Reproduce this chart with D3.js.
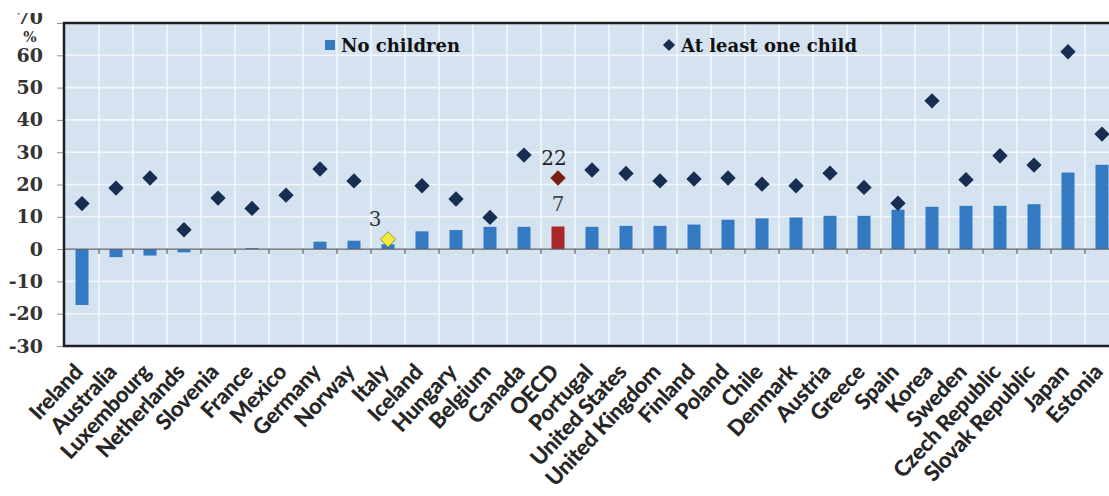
<!DOCTYPE html>
<html>
<head>
<meta charset="utf-8">
<script src="https://cdn.jsdelivr.net/npm/d3@7"></script>
<style>
  html, body { margin: 0; padding: 0; background: #ffffff; }
  svg { display: block; }
</style>
</head>
<body>
<div id="chart"></div>
<script>
// Countries, ordered by the gap for people without children
const countries = ["Ireland", "Australia", "Luxembourg", "Netherlands", "Slovenia", "France", "Mexico",
  "Germany", "Norway", "Italy", "Iceland", "Hungary", "Belgium", "Canada", "OECD", "Portugal",
  "United States", "United Kingdom", "Finland", "Poland", "Chile", "Denmark", "Austria", "Greece",
  "Spain", "Korea", "Sweden", "Czech Republic", "Slovak Republic", "Japan", "Estonia"];

// Gap (%) for people with no children (bars)
const noChildren = [-17.3, -2.5, -2.0, -1.0, 0.0, 0.3, 0.0,
  2.3, 2.6, 1.5, 5.5, 5.9, 6.9, 6.9, 7, 6.9,
  7.2, 7.2, 7.6, 9.1, 9.5, 9.8, 10.3, 10.3,
  12.2, 13.1, 13.4, 13.4, 13.9, 23.7, 26.1];

// Gap (%) for people with at least one child (diamonds)
const atLeastOneChild = [14.1, 18.9, 22.0, 6.0, 15.8, 12.6, 16.7,
  24.8, 21.1, 3, 19.6, 15.5, 9.8, 29.1, 22, 24.5,
  23.4, 21.1, 21.7, 22.0, 20.1, 19.6, 23.5, 19.1,
  14.2, 45.9, 21.5, 28.9, 26.0, 61.1, 35.6];

const yTicks = [-30, -20, -10, 0, 10, 20, 30, 40, 50, 60, 70];
const seriesNames = ["No children", "At least one child"];

const W = 1109, H = 496;
const plot = { left: 64, top: 23, right: 1119, bottom: 346 };

const svg = d3.select("#chart").append("svg")
  .attr("width", W).attr("height", H);

// the visible picture starts a little below the top edge
svg.append("defs").append("clipPath").attr("id", "page")
  .append("rect").attr("x", 0).attr("y", 13).attr("width", W).attr("height", H - 13);
const g = svg.append("g").attr("clip-path", "url(#page)");

const x = d3.scaleBand().domain(countries).range([65, 65 + 34 * countries.length]).padding(0);
const y = d3.scaleLinear().domain([-30, 70]).range([plot.bottom, plot.top]);

// plot background
g.append("rect")
  .attr("x", plot.left).attr("y", plot.top)
  .attr("width", plot.right - plot.left).attr("height", plot.bottom - plot.top)
  .attr("fill", "#d5e3f1");

// grid: horizontal at each tick, vertical at category boundaries
g.append("g").selectAll("line").data(yTicks).join("line")
  .attr("x1", plot.left).attr("x2", plot.right)
  .attr("y1", d => y(d)).attr("y2", d => y(d))
  .attr("stroke", "#f2f6fb").attr("stroke-width", 1.6);
g.append("g").selectAll("line").data(countries.slice(1)).join("line")
  .attr("x1", d => x(d)).attr("x2", d => x(d))
  .attr("y1", plot.top).attr("y2", plot.bottom)
  .attr("stroke", "#f2f6fb").attr("stroke-width", 1.6);

// bars
const barW = 13;
g.append("g").selectAll("rect").data(countries).join("rect")
  .attr("x", d => x(d) + x.bandwidth() / 2 - barW / 2)
  .attr("width", barW)
  .attr("y", (d, i) => y(Math.max(0, noChildren[i])))
  .attr("height", (d, i) => Math.abs(y(noChildren[i]) - y(0)))
  .attr("fill", d => d === "OECD" ? "#a8282b" : "#337ac2");

// zero line with boundary ticks
g.append("line")
  .attr("x1", plot.left).attr("x2", plot.right)
  .attr("y1", y(0)).attr("y2", y(0))
  .attr("stroke", "#5a5f66").attr("stroke-width", 1.4);
g.append("g").selectAll("line").data(countries.slice(1)).join("line")
  .attr("x1", d => x(d)).attr("x2", d => x(d))
  .attr("y1", y(0)).attr("y2", y(0) + 5)
  .attr("stroke", "#5a5f66").attr("stroke-width", 1.2);

// diamonds
const diamond = d3.symbol().type(d3.symbolDiamond2).size(150);
g.append("g").selectAll("path").data(countries).join("path")
  .attr("d", diamond)
  .attr("transform", (d, i) => `translate(${x(d) + x.bandwidth() / 2},${y(atLeastOneChild[i])})`)
  .attr("fill", d => d === "OECD" ? "#7a1d14" : d === "Italy" ? "#f4ea3c" : "#172e52")
  .attr("stroke", d => d === "Italy" ? "#8c9a3a" : "none")
  .attr("stroke-width", 1);

// value labels
const cx = name => x(name) + x.bandwidth() / 2;
const iOECD = countries.indexOf("OECD"), iItaly = countries.indexOf("Italy");
const valueFont = "'DejaVu Serif', serif";
g.append("text").attr("x", cx("OECD") - 4).attr("y", y(atLeastOneChild[iOECD]) - 13)
  .attr("text-anchor", "middle").attr("font-family", valueFont).attr("font-size", 20)
  .attr("fill", "#222").text(atLeastOneChild[iOECD]);
g.append("text").attr("x", cx("OECD")).attr("y", y(noChildren[iOECD]) - 15)
  .attr("text-anchor", "middle").attr("font-family", valueFont).attr("font-size", 20)
  .attr("fill", "#444").text(noChildren[iOECD]);
g.append("text").attr("x", cx("Italy") - 13).attr("y", y(atLeastOneChild[iItaly]) - 13)
  .attr("text-anchor", "middle").attr("font-family", valueFont).attr("font-size", 20)
  .attr("fill", "#333").text(atLeastOneChild[iItaly]);

// frame
g.append("path")
  .attr("d", `M${plot.right},${plot.top}H${plot.left}V${plot.bottom}H${plot.right}`)
  .attr("fill", "none").attr("stroke", "#1e1f22").attr("stroke-width", 2.5);

// y axis
const yAxis = g.append("g").attr("transform", `translate(${plot.left - 1},0)`)
  .call(d3.axisLeft(y).tickValues(yTicks).tickFormat(d => String(d)).tickSize(6).tickPadding(14));
yAxis.select(".domain").remove();
yAxis.selectAll(".tick line").attr("stroke", "#8a8f96");
yAxis.selectAll(".tick text")
  .attr("font-family", "'DejaVu Serif', serif").attr("font-weight", "bold")
  .attr("font-size", 19).attr("fill", "#333");
// the top label sits a little above its tick
yAxis.selectAll(".tick text").filter(d => d === 70).attr("dy", "0em");
g.append("text").attr("x", 30).attr("y", 42).attr("text-anchor", "middle")
  .attr("font-family", "'DejaVu Serif', serif").attr("font-weight", "bold")
  .attr("font-size", 14).attr("fill", "#333").text("%");

// x axis labels
g.append("g").selectAll("text").data(countries).join("text")
  .attr("transform", d => `translate(${cx(d) + 2},${plot.bottom + 27}) rotate(-47)`)
  .attr("text-anchor", "end")
  .attr("font-family", "Lato, 'Liberation Sans', sans-serif").attr("font-weight", "900")
  .attr("font-size", 22).attr("letter-spacing", -0.3).attr("fill", "#262626")
  .text(d => d);

// legend
const legend = g.append("g").attr("font-family", "'DejaVu Serif', serif")
  .attr("font-weight", "bold").attr("font-size", 18).attr("fill", "#111");
legend.append("rect").attr("x", 325).attr("y", 40).attr("width", 10).attr("height", 10).attr("fill", "#337ac2");
legend.append("text").attr("x", 341).attr("y", 52).text(seriesNames[0]);
legend.append("path").attr("d", d3.symbol().type(d3.symbolDiamond2).size(95))
  .attr("transform", "translate(669,45)").attr("fill", "#172e52");
legend.append("text").attr("x", 681).attr("y", 52).text(seriesNames[1]);
</script>
</body>
</html>
